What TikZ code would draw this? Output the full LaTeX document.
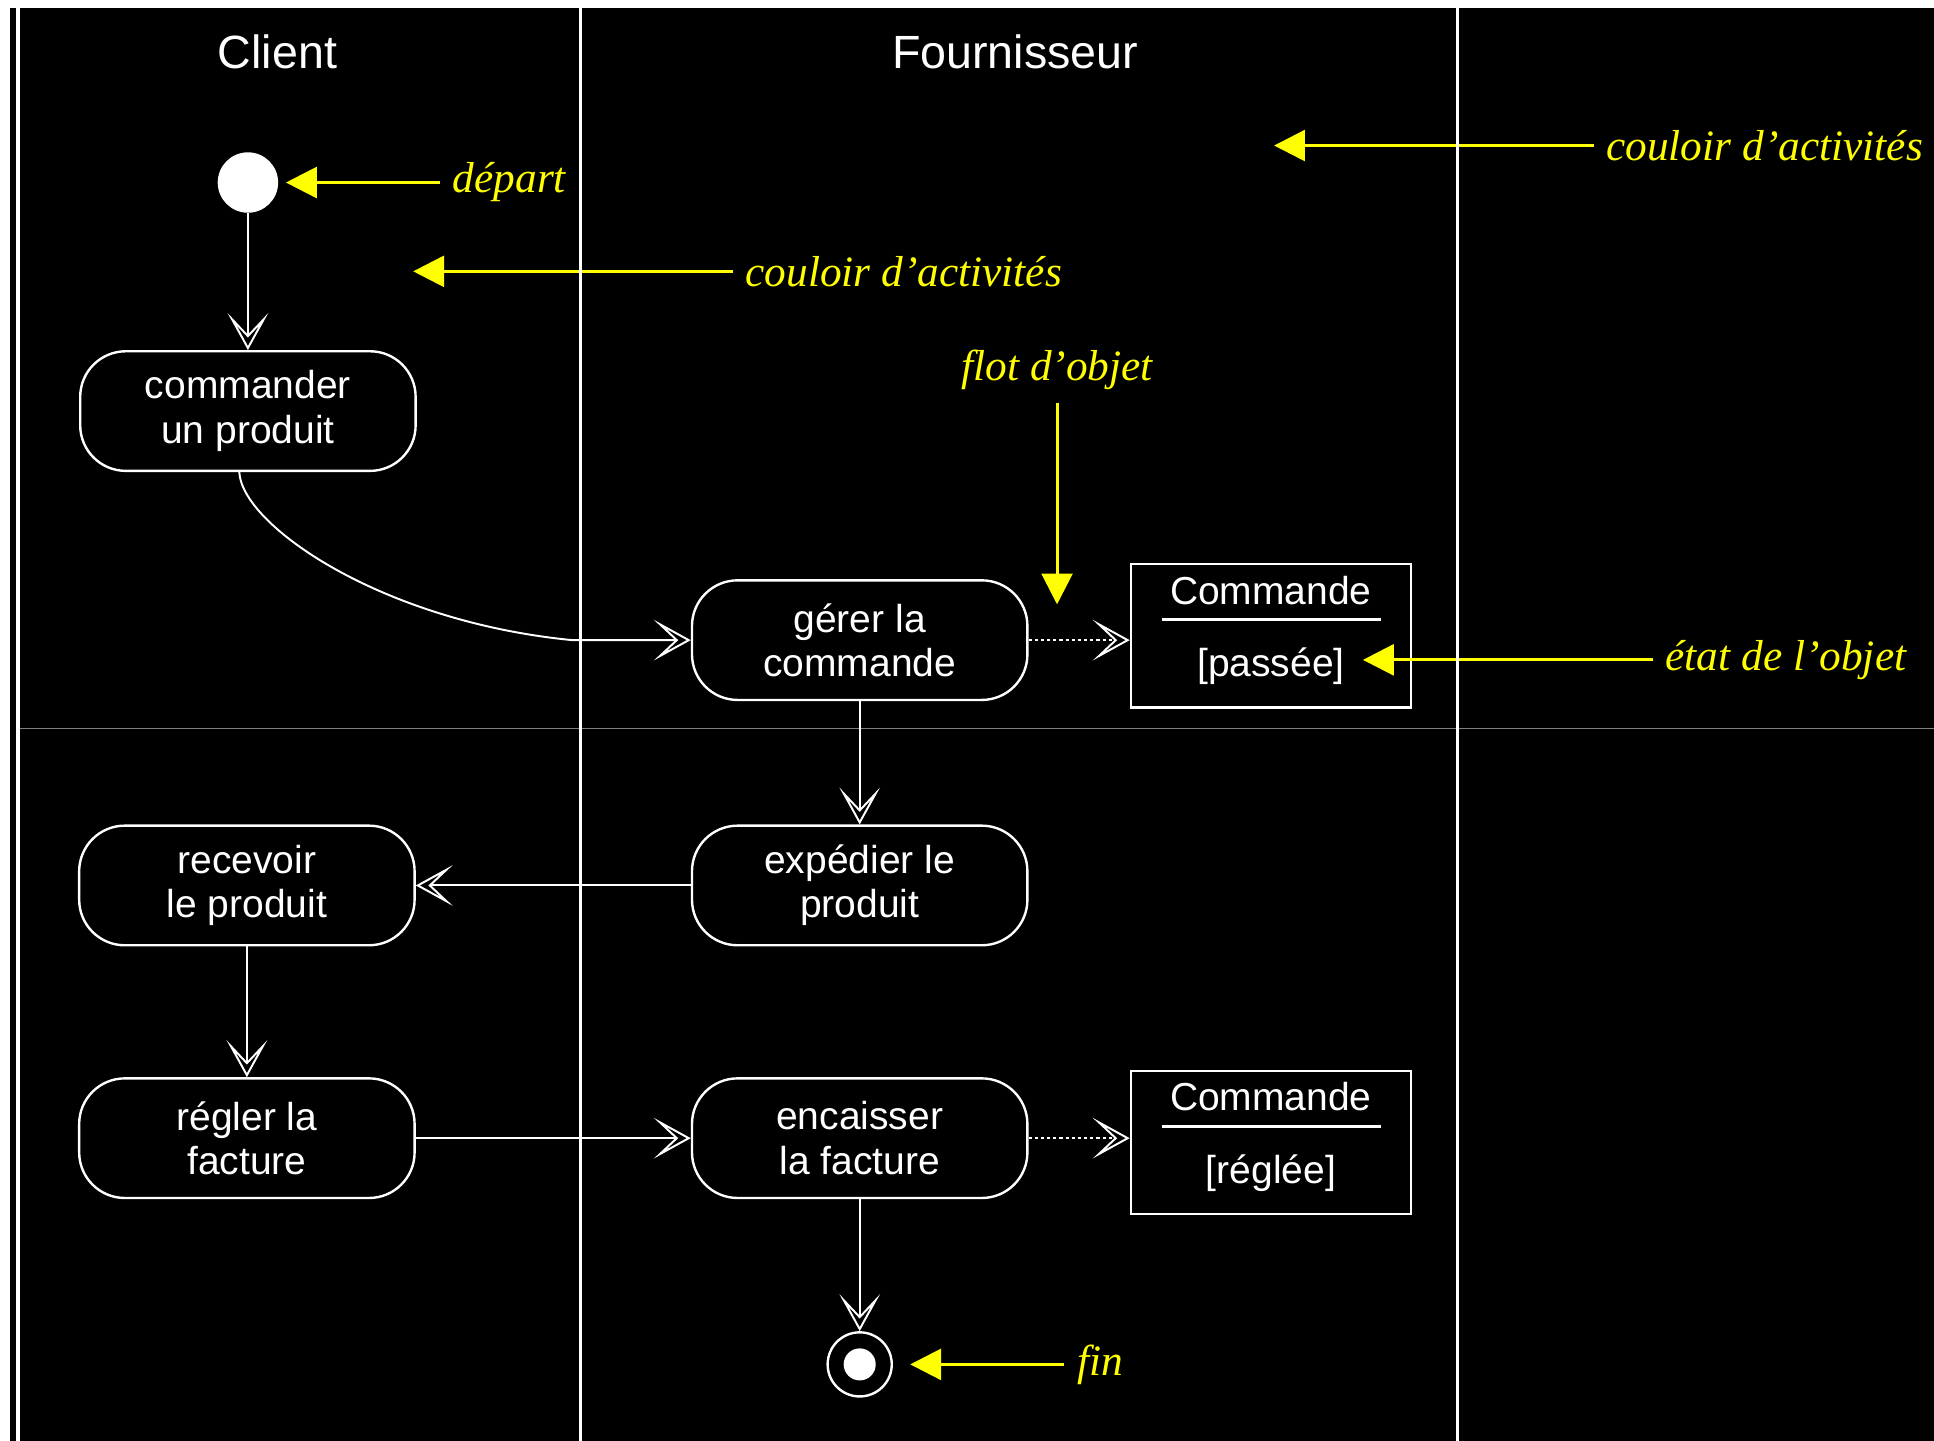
\documentclass[tikz,border=0pt]{standalone}
\usepackage{fontspec}
\setmainfont{Liberation Sans}
\newfontfamily\notefamily{Liberation Serif}
\definecolor{noteyellow}{RGB}{255, 255, 0}
\definecolor{lanegray}{RGB}{128, 128, 128}
\usetikzlibrary{arrows.meta, positioning}
\tikzset{
	action/.style={rectangle, rounded corners=0.74cm, draw=white, line width=1.1pt, text=white, align=center, minimum width=5.44cm, minimum height=1.94cm, font=\fontsize{18}{20.5}\selectfont},
	objbox/.style={rectangle, draw=white, line width=1.1pt, text=white, align=center, minimum width=4.54cm, minimum height=2.32cm, text depth=0.31cm, yshift=0.07cm, font=\fontsize{18}{20.5}\selectfont},
	startdot/.style={circle, fill=white, minimum size=0.98cm, inner sep=0pt},
	enddot/.style={circle, draw=white, line width=1.1pt, minimum size=1.04cm, inner sep=0pt, path picture={\fill[white] (path picture bounding box.center) circle (0.26cm);}},
	lanetitle/.style={text=white, font=\fontsize{21.5}{25}\selectfont},
	note/.style={text=noteyellow, inner sep=0.2cm, font=\notefamily\itshape\fontsize{20}{23}\selectfont},
	flow/.style={-{Stealth[open, length=0.6cm, width=0.66cm, inset=0.35cm]}, draw=white, line width=0.9pt},
	objflow/.style={flow, dash pattern=on 0.05cm off 0.05cm},
	pointer/.style={-{Triangle[length=0.5cm, width=0.5cm]}, draw=noteyellow, line width=1.4pt},
	sepline/.style={draw=white, line width=1.3pt},
	laneline/.style={draw=white, line width=1.4pt},
}

\begin{document}
\begin{tikzpicture}[x=0.02cm, y=-0.02cm, node distance=2cm]
	\useasboundingbox (0,0) rectangle (1568,1168);
	\fill[white] (0,0) rectangle (1568,1168);
	\fill[black] (8,6.5) rectangle (1568,1168);
	\draw[lanegray, line width=0.45pt] (14,591) -- (1568,591);
	% couloirs
	\node[lanetitle] (client) at (225,42) {Client};
	\node[lanetitle] (fourn) at (823,42) {Fournisseur};
	% activites
	\node[startdot] (start) at (201,148) {};
	\node[action, below=2.22cm of start] (cmd) {commander\\un produit};
	\node[action] (gerer) at (697,519) {gérer la\\commande};
	\node[objbox, right=1.64cm of gerer] (passee) {Commande\\[0.46cm][passée]};
	\node[action, below=2.0cm of gerer] (exped) {expédier le\\produit};
	\node[action, left=4.46cm of exped] (recv) {recevoir\\le produit};
	\node[action, below=2.12cm of recv] (regler) {régler la\\facture};
	\node[action, right=4.46cm of regler] (encaiss) {encaisser\\la facture};
	\node[objbox, right=1.64cm of encaiss, yshift=-0.14cm] (reglee) {Commande\\[0.46cm][réglée]};
	\node[enddot, below=2.14cm of encaiss] (end) {};
	\draw[sepline] ([xshift=0.52cm, yshift=-0.92cm]passee.north west) -- ([xshift=-0.5cm, yshift=-0.92cm]passee.north east);
	\draw[sepline] ([xshift=0.52cm, yshift=-0.92cm]reglee.north west) -- ([xshift=-0.5cm, yshift=-0.92cm]reglee.north east);
	% transitions
	\draw[flow] (start) -- (cmd);
	\draw[flow] ([xshift=-0.14cm]cmd.south) .. controls +(0.04cm,-0.86cm) and +(-3.1cm,0.3cm) .. ([xshift=-1.92cm]gerer.west) -- (gerer);
	\draw[objflow] (gerer) -- (gerer -| passee.west);
	\draw[flow] (gerer) -- (exped);
	\draw[flow] (exped) -- (recv);
	\draw[flow] (recv) -- (regler);
	\draw[flow] (regler) -- (encaiss);
	\draw[objflow] (encaiss) -- (encaiss -| reglee.west);
	\draw[flow] (encaiss) -- (end);
	% annotations
	\node[note, right=2.62cm of start] (depart) {départ};
	\draw[pointer, shorten >=0.12cm] (depart) -- (start);
	\node[note, anchor=west] (lanenote) at (594,220) {couloir d’activités};
	\coordinate (lanetip) at (335,220);
	\draw[pointer] (lanenote) -- (lanetip);
	\node[note, anchor=west] (lanenoteb) at (1292,118) {couloir d’activités};
	\coordinate (lanetipb) at (1033,118);
	\draw[pointer] (lanenoteb) -- (lanetipb);
	\node[note] (flotnote) at (857,300) {flot d’objet};
	\coordinate (flottip) at (857,490);
	\draw[pointer] (flotnote) -- (flottip);
	\node[note, anchor=west] (etatnote) at (1340,535) {état de l’objet};
	\coordinate (etattip) at (1105,535);
	\draw[pointer] (etatnote) -- (etattip);
	\node[note, right=2.78cm of end] (finnote) {fin};
	\draw[pointer, shorten >=0.28cm] (finnote) -- (end);
	% separations
	\draw[laneline, line width=2pt] (14.5,6.5) -- (14.5,1168);
	\draw[laneline] (471,6.5) -- (471,1168);
	\draw[laneline] (1182,6.5) -- (1182,1168);
\end{tikzpicture}
\end{document}
